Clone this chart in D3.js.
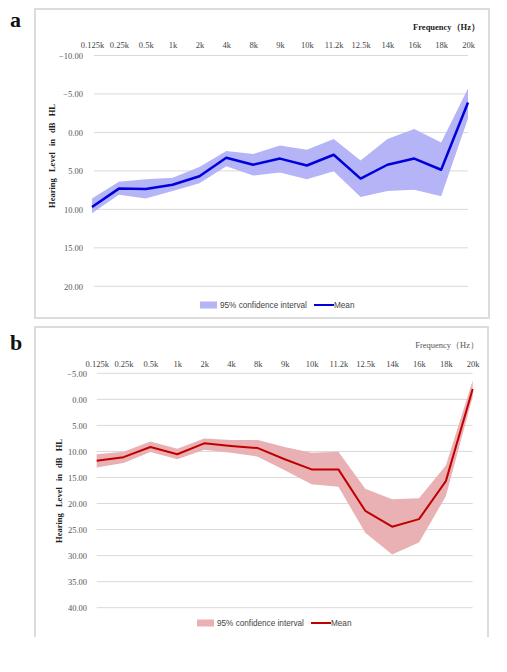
<!DOCTYPE html>
<html><head><meta charset="utf-8">
<script src="https://cdn.jsdelivr.net/npm/d3@7"></script>
<style>body{margin:0;background:#fff}svg{display:block}</style>
</head><body><svg id="c" width="507" height="672"></svg>
<script>
const freqLabels = ["0.125k","0.25k","0.5k","1k","2k","4k","8k","9k","10k","11.2k","12.5k","14k","16k","18k","20k"];
// Panel a
const meanA   = [9.7, 7.3, 7.35, 6.8, 5.7, 3.3, 4.2, 3.4, 4.3, 2.9, 6.0, 4.2, 3.4, 4.85, -3.9];
const ciLowA  = [8.6, 6.4, 6.1, 5.9, 4.5, 2.4, 2.8, 1.7, 2.25, 0.85, 3.65, 0.85, -0.45, 1.3, -5.7];
const ciHighA = [10.5, 8.1, 8.6, 7.6, 6.6, 4.4, 5.6, 5.2, 6.1, 5.05, 8.4, 7.6, 7.45, 8.3, -1.8];
const yTicksA = [-10, -5, 0, 5, 10, 15, 20];
// Panel b
const meanB   = [11.8, 11.1, 9.15, 10.55, 8.45, 8.95, 9.35, 11.5, 13.45, 13.45, 21.4, 24.45, 23.0, 15.7, -2.0];
const ciLowB  = [10.55, 10.05, 8.1, 9.5, 7.5, 7.8, 7.8, 9.15, 10.25, 10.05, 17.15, 19.2, 19.0, 12.7, -3.6];
const ciHighB = [13.1, 12.2, 10.1, 11.5, 9.7, 10.25, 11.0, 13.6, 16.3, 16.8, 25.6, 29.8, 27.5, 18.6, -0.5];
const yTicksB = [-5, 0, 5, 10, 15, 20, 25, 30, 35, 40];

const svg = d3.select("#c");
const fmt = d3.format(".2f");

function panel(o) {
  const g = svg.append("g");
  // frame
  const [fx, fy, fw, fh] = o.frame;
  const framePath = o.openBottom
    ? `M${fx},${fy + fh}V${fy}H${fx + fw}V${fy + fh}`
    : `M${fx},${fy}H${fx + fw}V${fy + fh}H${fx}Z`;
  g.append("path").attr("d", framePath).attr("fill", "#fff").attr("stroke", "#dcdcdc").attr("stroke-width", 2);
  // panel letter
  g.append("text").attr("x", 10).attr("y", o.letterY).text(o.letter)
    .attr("font-family", "Liberation Serif, serif").attr("font-weight", "bold").attr("font-size", 22).attr("fill", "#111");

  const x = d3.scalePoint().domain(freqLabels).range(o.xr);
  const y = d3.scaleLinear().domain(o.yd).range(o.yr);

  // gridlines
  g.append("g").selectAll("line").data(o.yTicks).join("line")
    .attr("x1", o.gridX[0]).attr("x2", o.gridX[1])
    .attr("y1", d => y(d)).attr("y2", d => y(d))
    .attr("stroke", "#d9d9d9").attr("stroke-width", 1);

  // y axis labels
  const ya = d3.axisLeft(y).tickValues(o.yTicks).tickFormat(fmt).tickSize(0).tickPadding(0);
  const yg = g.append("g").attr("transform", `translate(${o.yLabelX},0)`).call(ya);
  yg.select(".domain").remove();
  yg.selectAll("text").attr("font-family", "Liberation Serif, serif").attr("font-size", 8.5).attr("fill", "#555");

  // x axis labels on top
  const xa = d3.axisTop(x).tickSize(0).tickPadding(0);
  const xg = g.append("g").attr("transform", `translate(0,${o.xLabelY})`).call(xa);
  xg.select(".domain").remove();
  xg.selectAll("text").attr("font-family", "Liberation Serif, serif").attr("font-size", 8.5).attr("fill", "#444");

  // Frequency label
  g.append("text").attr("x", o.freqX).attr("y", o.freqY).attr("text-anchor", "end")
    .text("Frequency（Hz）").attr("font-family", "Liberation Serif, serif")
    .attr("font-weight", o.freqBold ? "bold" : "normal").attr("font-size", 8.5).attr("fill", o.freqBold ? "#222" : "#555");

  // y title
  g.append("text").attr("transform", `translate(${o.yTitle[0]},${o.yTitle[1]}) rotate(-90)`)
    .attr("text-anchor", "middle").text("Hearing  Level  in  dB HL")
    .attr("font-family", "Liberation Serif, serif").attr("font-weight", "bold").attr("font-size", 8.5).attr("fill", "#222")
    .attr("word-spacing", 4);

  const rows = freqLabels.map((f, i) => ({f, m: o.mean[i], lo: o.lo[i], hi: o.hi[i]}));
  g.append("path").datum(rows)
    .attr("d", d3.area().x(d => x(d.f)).y0(d => y(d.lo)).y1(d => y(d.hi)))
    .attr("fill", o.band);
  g.append("path").datum(rows)
    .attr("d", d3.line().x(d => x(d.f)).y(d => y(d.m)))
    .attr("fill", "none").attr("stroke", o.line).attr("stroke-width", o.lw).attr("stroke-linejoin", "round");

  // legend
  const lg = g.append("g").attr("transform", `translate(${o.legX},${o.legY})`);
  lg.append("rect").attr("x", 0).attr("y", -3.5).attr("width", 17).attr("height", 7).attr("fill", o.band);
  lg.append("text").attr("x", 20).attr("y", 3).text("95% confidence interval")
    .attr("font-family", "Liberation Sans, Arial, sans-serif").attr("font-size", 8.2).attr("fill", "#444");
  lg.append("line").attr("x1", 114).attr("x2", 134).attr("y1", 0).attr("y2", 0)
    .attr("stroke", o.line).attr("stroke-width", 2);
  lg.append("text").attr("x", 134).attr("y", 3).text("Mean")
    .attr("font-family", "Liberation Sans, Arial, sans-serif").attr("font-size", 8.2).attr("fill", "#444");
}

panel({
  frame: [35, 9, 454, 309], letter: "a", letterY: 27, openBottom: false,
  xr: [92, 468], yd: [-10, 20], yr: [55.5, 286.3], yTicks: yTicksA,
  gridX: [94, 468], yLabelX: 83, xLabelY: 48,
  freqX: 480, freqY: 30, freqBold: true, yTitle: [55, 156],
  mean: meanA, lo: ciLowA, hi: ciHighA,
  band: "#b4b4f6", line: "#0000dd", lw: 2.5,
  legX: 200, legY: 305
});

panel({
  frame: [35, 327, 453, 310], letter: "b", letterY: 350, openBottom: true,
  xr: [96.7, 472.7], yd: [-5, 40], yr: [373.3, 607.7], yTicks: yTicksB,
  gridX: [96.7, 472.7], yLabelX: 87, xLabelY: 367,
  freqX: 479, freqY: 348, freqBold: false, yTitle: [62, 491],
  mean: meanB, lo: ciLowB, hi: ciHighB,
  band: "#e9b1b3", line: "#c00000", lw: 2,
  legX: 197, legY: 623
});
</script></body></html>
